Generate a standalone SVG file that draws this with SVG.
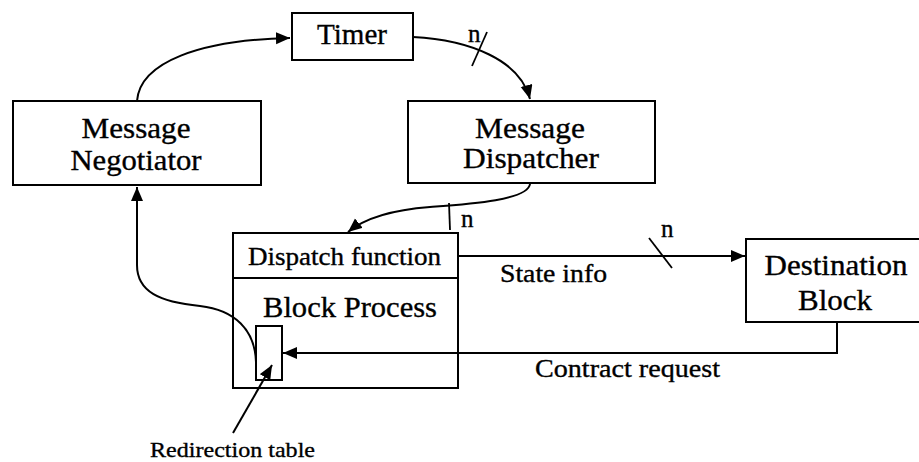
<svg xmlns="http://www.w3.org/2000/svg" width="919" height="462" viewBox="0 0 919 462">
  <style>
    .box { fill: #fff; stroke: #000; stroke-width: 2; }
    .wire { fill: none; stroke: #000; stroke-width: 2; }
    .tick { fill: none; stroke: #000; stroke-width: 1.8; }
    text { font-family: "Liberation Serif", "Times New Roman", Times, serif; fill: #000; stroke: #000; stroke-width: 0.35; }
    .big { font-size: 29px; text-anchor: middle; }
    .mid { font-size: 25px; }
    .small { font-size: 22px; }
  </style>
  <defs>
    <marker id="arrow" markerUnits="userSpaceOnUse" markerWidth="16" markerHeight="14" refX="14" refY="6" orient="auto">
      <path d="M0,0 L14,6 L0,12 Z" fill="#000"/>
    </marker>
  </defs>

  <g id="timer">
    <rect class="box" x="292" y="13" width="121" height="47"/>
    <text class="big" x="352" y="44" font-size="27" textLength="70" lengthAdjust="spacingAndGlyphs">Timer</text>
  </g>

  <g id="message-negotiator">
    <rect class="box" x="13" y="101" width="248" height="84"/>
    <text class="big" x="136" y="138" textLength="109" lengthAdjust="spacingAndGlyphs">Message</text>
    <text class="big" x="136" y="170" textLength="131" lengthAdjust="spacingAndGlyphs">Negotiator</text>
  </g>

  <g id="message-dispatcher">
    <rect class="box" x="408" y="101" width="247" height="82"/>
    <text class="big" x="530" y="138" textLength="110" lengthAdjust="spacingAndGlyphs">Message</text>
    <text class="big" x="531" y="168" textLength="136" lengthAdjust="spacingAndGlyphs">Dispatcher</text>
  </g>

  <g id="block-process">
    <rect class="box" x="233" y="233" width="225" height="155"/>
    <line class="wire" x1="233" y1="278" x2="458" y2="278"/>
    <text class="mid" x="248" y="265" textLength="193" lengthAdjust="spacingAndGlyphs">Dispatch function</text>
    <text class="big" x="350" y="317" textLength="174" lengthAdjust="spacingAndGlyphs">Block Process</text>
  </g>

  <g id="redirection-table">
    <rect class="box" x="256" y="326" width="26" height="54"/>
    <text class="small" x="150" y="457" textLength="165" lengthAdjust="spacingAndGlyphs">Redirection table</text>
  </g>

  <g id="destination-block">
    <rect class="box" x="746" y="239" width="180" height="83"/>
    <text class="big" x="836" y="275" textLength="143" lengthAdjust="spacingAndGlyphs">Destination</text>
    <text class="big" x="835" y="310" textLength="74" lengthAdjust="spacingAndGlyphs">Block</text>
  </g>

  <g id="connectors">
    <!-- negotiator to timer -->
    <path class="wire" d="M137,101 C140,62 200,40 290,38" marker-end="url(#arrow)"/>
    <!-- timer to dispatcher, n lines -->
    <path class="wire" d="M413,37 C470,40 520,60 530,99" marker-end="url(#arrow)"/>
    <line class="tick" x1="472" y1="66" x2="487" y2="32"/>
    <text class="mid" x="468" y="42">n</text>
    <!-- dispatcher to dispatch function, n lines -->
    <path class="wire" d="M530,184 C528,200 470,204 430,207 C390,210 365,218 348,232" marker-end="url(#arrow)"/>
    <line class="tick" x1="449" y1="203" x2="450" y2="230"/>
    <text class="mid" x="461" y="227">n</text>
    <!-- state info to destination -->
    <path class="wire" d="M459,256 L745,256" marker-end="url(#arrow)"/>
    <line class="tick" x1="649" y1="238" x2="672" y2="268"/>
    <text class="mid" x="661" y="237">n</text>
    <!-- contract request back to redirection table -->
    <path class="wire" d="M837,322 L837,353 L283,353" marker-end="url(#arrow)"/>
    <!-- redirection table up to negotiator -->
    <path class="wire" d="M256,362 C255,330 235,310 200,306 C160,302 137,292 137,265 L137,187" marker-end="url(#arrow)"/>
    <!-- pointer to redirection table -->
    <path class="wire" d="M233,433 L272,365" marker-end="url(#arrow)"/>
  </g>

  <g id="labels">
    <text class="mid" x="500" y="282" textLength="107" lengthAdjust="spacingAndGlyphs">State info</text>
    <text class="mid" x="535" y="377" textLength="185" lengthAdjust="spacingAndGlyphs">Contract request</text>
  </g>
</svg>
